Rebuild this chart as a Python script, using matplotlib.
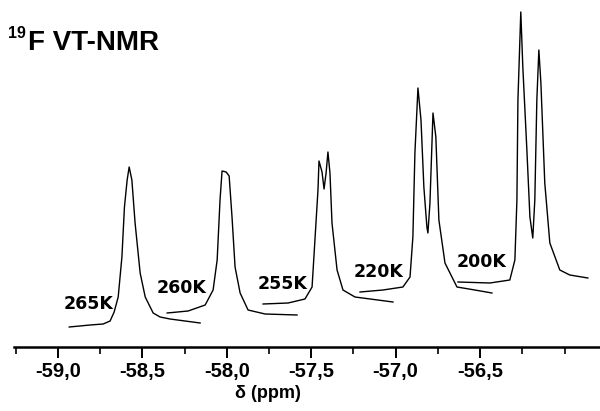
import numpy as np
import matplotlib
matplotlib.use("Agg")
import matplotlib.pyplot as plt

# stacked 19F VT-NMR traces: chemical shift (ppm) and intensity (arb. units, stacked)
ppm_265 = [-58.933, -58.809, -58.732, -58.691, -58.667, -58.643, -58.621, -58.606, -58.590,
           -58.578, -58.562, -58.543, -58.513, -58.483, -58.436, -58.395, -58.336, -58.247, -58.158]
int_265 = [20, 22, 23, 26, 35, 50, 90, 140, 167, 180, 167, 124, 74, 50, 34, 30, 28, 26, 24]

ppm_260 = [-58.353, -58.229, -58.128, -58.081, -58.057, -58.040, -58.028, -58.004, -57.986,
           -57.969, -57.951, -57.921, -57.874, -57.773, -57.584]
int_260 = [34, 36, 42, 57, 87, 147, 176, 175, 171, 130, 80, 54, 37, 33, 32]

ppm_255 = [-57.785, -57.637, -57.537, -57.495, -57.478, -57.460, -57.454, -57.436, -57.424,
           -57.412, -57.401, -57.389, -57.377, -57.347, -57.312, -57.241, -57.016]
int_255 = [43, 44, 48, 60, 107, 157, 186, 175, 158, 174, 195, 174, 124, 77, 57, 50, 45]

ppm_220 = [-57.211, -57.075, -56.957, -56.915, -56.898, -56.886, -56.868, -56.850, -56.833,
           -56.815, -56.809, -56.797, -56.779, -56.762, -56.744, -56.708, -56.637, -56.531, -56.430]
int_220 = [55, 57, 60, 70, 110, 194, 259, 227, 160, 120, 114, 144, 234, 210, 127, 84, 60, 57, 54]

ppm_200 = [-56.631, -56.442, -56.324, -56.294, -56.282, -56.276, -56.259, -56.247, -56.223, -56.205,
           -56.188, -56.176, -56.164, -56.152, -56.140, -56.117, -56.087, -56.028, -55.969, -55.862]
int_200 = [65, 64, 67, 87, 147, 247, 335, 280, 197, 130, 109, 147, 247, 297, 264, 164, 104, 77, 72, 69]

temps = ['265K', '260K', '255K', '220K', '200K']
label_ppm = [-58.820, -58.265, -57.667, -57.099, -56.489]
label_int = [43, 59, 63, 75, 85]

tick_pos = [-59.0, -58.5, -58.0, -57.5, -57.0, -56.5]
tick_labels = ['-59,0', '-58,5', '-58,0', '-57,5', '-57,0', '-56,5']

plt.rcParams['font.family'] = ['Liberation Sans', 'DejaVu Sans']

fig = plt.figure(figsize=(6, 4.11), dpi=100)
ax = fig.add_axes([14/600, 64/411, 586/600, 347/411])

traces = [(ppm_265, int_265), (ppm_260, int_260), (ppm_255, int_255),
          (ppm_220, int_220), (ppm_200, int_200)]
for x, y in traces:
    ax.plot(x, y, color='black', lw=1.0)

# temperature labels, a wide bold face like the scan
for t, xp, yp in zip(temps, label_ppm, label_int):
    ax.text(xp, yp, t, ha='center', va='center', fontsize=12.5, fontweight='bold',
            family='DejaVu Sans')

ax.set_xlim(-59.26, -55.79)
ax.set_ylim(0, 347)

for s in ['top', 'right', 'left']:
    ax.spines[s].set_visible(False)
ax.spines['bottom'].set_linewidth(1.8)
ax.set_yticks([])
ax.set_xticks(tick_pos)
ax.set_xticklabels(tick_labels, fontsize=14.5, fontweight='bold')
ax.set_xticks(np.arange(-59.25, -55.8, 0.25), minor=True)
ax.tick_params(axis='x', which='major', length=8, width=1.4, pad=3)
ax.tick_params(axis='x', which='minor', length=5, width=1.2)

ax.set_xlabel('δ (ppm)', fontsize=13, fontweight='bold', va='center')
ax.xaxis.set_label_coords((268 - 14) / 586, -0.135)

fig.text(8/600, 1 - 38/411, '19', fontsize=11.5, fontweight='bold', va='baseline')
fig.text(28/600, 1 - 50/411, 'F VT-NMR', fontsize=20, fontweight='bold', va='baseline')

fig.savefig('out.png', dpi=100)
